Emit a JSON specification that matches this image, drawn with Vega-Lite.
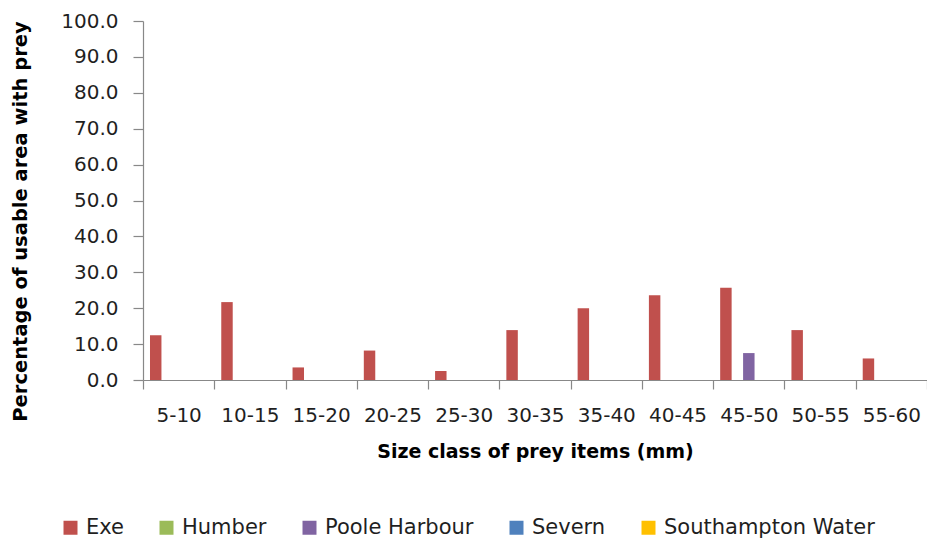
{
  "$schema": "https://vega.github.io/schema/vega-lite/v6.json",
  "width": 784,
  "height": 359,
  "autosize": "none",
  "padding": {"left": 143, "top": 21, "right": 0, "bottom": 163},
  "background": "white",
  "config": {
    "view": {"stroke": null},
    "font": "DejaVu Sans",
    "axis": {"labelFont": "DejaVu Sans", "titleFont": "DejaVu Sans", "labelColor": "#1f1f1f", "titleColor": "#000000", "domainColor": "#888888", "tickColor": "#888888", "domainWidth": 1.2, "tickWidth": 1.2},
    "legend": {"labelFont": "DejaVu Sans", "labelColor": "#1f1f1f"}
  },
  "data": {
    "values": [
      {"size": "5-10", "site": "Exe", "pct": 12.5},
      {"size": "5-10", "site": "Humber", "pct": 0},
      {"size": "5-10", "site": "Poole Harbour", "pct": 0},
      {"size": "5-10", "site": "Severn", "pct": 0},
      {"size": "5-10", "site": "Southampton Water", "pct": 0},
      {"size": "10-15", "site": "Exe", "pct": 21.7},
      {"size": "10-15", "site": "Humber", "pct": 0},
      {"size": "10-15", "site": "Poole Harbour", "pct": 0},
      {"size": "10-15", "site": "Severn", "pct": 0},
      {"size": "10-15", "site": "Southampton Water", "pct": 0},
      {"size": "15-20", "site": "Exe", "pct": 3.5},
      {"size": "15-20", "site": "Humber", "pct": 0},
      {"size": "15-20", "site": "Poole Harbour", "pct": 0},
      {"size": "15-20", "site": "Severn", "pct": 0},
      {"size": "15-20", "site": "Southampton Water", "pct": 0},
      {"size": "20-25", "site": "Exe", "pct": 8.2},
      {"size": "20-25", "site": "Humber", "pct": 0},
      {"size": "20-25", "site": "Poole Harbour", "pct": 0},
      {"size": "20-25", "site": "Severn", "pct": 0},
      {"size": "20-25", "site": "Southampton Water", "pct": 0},
      {"size": "25-30", "site": "Exe", "pct": 2.5},
      {"size": "25-30", "site": "Humber", "pct": 0},
      {"size": "25-30", "site": "Poole Harbour", "pct": 0},
      {"size": "25-30", "site": "Severn", "pct": 0},
      {"size": "25-30", "site": "Southampton Water", "pct": 0},
      {"size": "30-35", "site": "Exe", "pct": 13.9},
      {"size": "30-35", "site": "Humber", "pct": 0},
      {"size": "30-35", "site": "Poole Harbour", "pct": 0},
      {"size": "30-35", "site": "Severn", "pct": 0},
      {"size": "30-35", "site": "Southampton Water", "pct": 0},
      {"size": "35-40", "site": "Exe", "pct": 20.0},
      {"size": "35-40", "site": "Humber", "pct": 0},
      {"size": "35-40", "site": "Poole Harbour", "pct": 0},
      {"size": "35-40", "site": "Severn", "pct": 0},
      {"size": "35-40", "site": "Southampton Water", "pct": 0},
      {"size": "40-45", "site": "Exe", "pct": 23.6},
      {"size": "40-45", "site": "Humber", "pct": 0},
      {"size": "40-45", "site": "Poole Harbour", "pct": 0},
      {"size": "40-45", "site": "Severn", "pct": 0},
      {"size": "40-45", "site": "Southampton Water", "pct": 0},
      {"size": "45-50", "site": "Exe", "pct": 25.7},
      {"size": "45-50", "site": "Humber", "pct": 0},
      {"size": "45-50", "site": "Poole Harbour", "pct": 7.5},
      {"size": "45-50", "site": "Severn", "pct": 0},
      {"size": "45-50", "site": "Southampton Water", "pct": 0},
      {"size": "50-55", "site": "Exe", "pct": 13.9},
      {"size": "50-55", "site": "Humber", "pct": 0},
      {"size": "50-55", "site": "Poole Harbour", "pct": 0},
      {"size": "50-55", "site": "Severn", "pct": 0},
      {"size": "50-55", "site": "Southampton Water", "pct": 0},
      {"size": "55-60", "site": "Exe", "pct": 6.0},
      {"size": "55-60", "site": "Humber", "pct": 0},
      {"size": "55-60", "site": "Poole Harbour", "pct": 0},
      {"size": "55-60", "site": "Severn", "pct": 0},
      {"size": "55-60", "site": "Southampton Water", "pct": 0}
    ]
  },
  "mark": {"type": "bar"},
  "encoding": {
    "x": {
      "field": "size",
      "type": "nominal",
      "sort": ["5-10", "10-15", "15-20", "20-25", "25-30", "30-35", "35-40", "40-45", "45-50", "50-55", "55-60"],
      "scale": {"paddingInner": 0, "paddingOuter": 0},
      "axis": {
        "title": "Size class of prey items (mm)",
        "labelAngle": 0,
        "tickBand": "extent",
        "tickSize": 9,
        "labelPadding": 16,
        "labelFontSize": 20,
        "titleFontSize": 19,
        "titleFontWeight": "bold",
        "titlePadding": 17
      }
    },
    "xOffset": {
      "field": "site",
      "type": "nominal",
      "sort": ["Exe", "Humber", "Poole Harbour", "Severn", "Southampton Water"],
      "scale": {"paddingInner": 0, "paddingOuter": 0.61}
    },
    "y": {
      "field": "pct",
      "type": "quantitative",
      "scale": {"domain": [0, 100]},
      "axis": {
        "title": "Percentage of usable area with prey",
        "values": [0, 10, 20, 30, 40, 50, 60, 70, 80, 90, 100],
        "format": ".1f",
        "grid": false,
        "tickSize": 10,
        "labelPadding": 15,
        "labelFontSize": 20,
        "titleFontSize": 19.5,
        "titleFontWeight": "bold",
        "titlePadding": 30,
        "titleY": 200
      }
    },
    "color": {
      "field": "site",
      "type": "nominal",
      "scale": {
        "domain": ["Exe", "Humber", "Poole Harbour", "Severn", "Southampton Water"],
        "range": ["#C0504D", "#9BBB59", "#8064A2", "#4F81BD", "#FFC000"]
      },
      "legend": {
        "title": null,
        "orient": "none",
        "direction": "horizontal",
        "legendX": -83,
        "legendY": 496,
        "symbolType": "square",
        "symbolSize": 196,
        "symbolStrokeWidth": 0,
        "labelFontSize": 21,
        "labelLimit": 400,
        "labelOffset": 5,
        "columnPadding": 32,
        "padding": 0,
        "offset": 0
      }
    }
  }
}
